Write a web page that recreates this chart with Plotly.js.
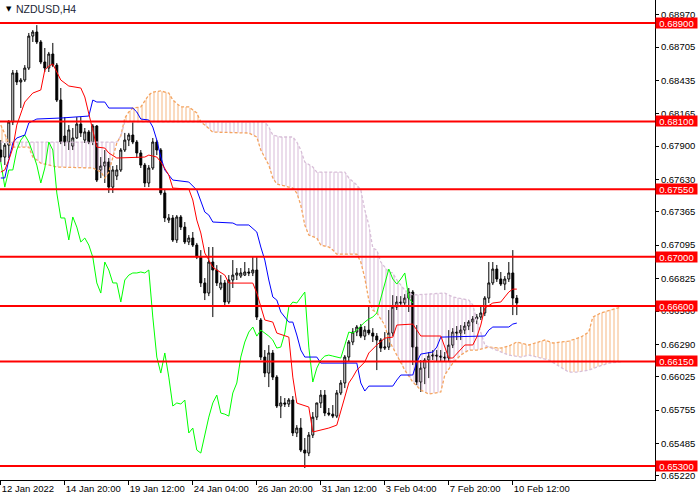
<!DOCTYPE html>
<html>
<head>
<meta charset="utf-8">
<script src="https://cdn.plot.ly/plotly-3.0.1.min.js"></script>
<style>
html, body { margin: 0; padding: 0; background: #fff; }
#chart { width: 700px; height: 500px; }
</style>
</head>
<body>
<div id="chart"></div>
<script>
// NZDUSD H4 candles, bar 0 = 12 Jan 2022 04:00
const open = [0.67868,0.67811,0.67908,0.68096,0.68494,0.68421,0.68437,0.68534,0.68794,0.68827,
  0.68746,0.68583,0.68534,0.68648,0.68558,0.68274,0.67982,0.67933,0.67900,0.67966,
  0.68079,0.67949,0.68015,0.67933,0.68063,0.67706,0.67738,0.67771,0.67567,0.67657,
  0.67706,0.67868,0.67949,0.67990,0.67933,0.67844,0.67746,0.67600,0.67722,0.67933,
  0.67868,0.67519,0.67299,0.67316,0.67137,0.67324,0.67242,0.67121,0.67153,0.67096,
  0.66998,0.66788,0.66706,0.66958,0.66893,0.66747,0.66788,0.66633,0.66812,0.66852,
  0.66844,0.66852,0.66877,0.66869,0.66893,0.66487,0.66186,0.66056,0.66219,0.66023,
  0.65788,0.65813,0.65804,0.65837,0.65569,0.65609,0.65430,0.65406,0.65552,0.65698,
  0.65813,0.65877,0.65731,0.65722,0.65706,0.65894,0.65975,0.66186,0.66308,0.66389,
  0.66430,0.66356,0.66405,0.66381,0.66356,0.66324,0.66259,0.66267,0.66381,0.66592,
  0.66633,0.66625,0.66665,0.66714,0.66267,0.65983,0.66096,0.66162,0.66194,0.66202,
  0.66194,0.66186,0.66178,0.66283,0.66389,0.66381,0.66405,0.66438,0.66471,0.66495,
  0.66511,0.66544,0.66665,0.66788,0.66901,0.66820,0.66779,0.66820,0.66869,0.66665];
const high = [0.67949,0.67925,0.68112,0.68518,0.68518,0.68453,0.68558,0.68819,0.68843,0.68883,
  0.68762,0.68697,0.68665,0.68738,0.68575,0.68372,0.68136,0.68071,0.68047,0.68136,
  0.68136,0.68047,0.68031,0.68079,0.68071,0.67811,0.67868,0.67803,0.67738,0.67746,
  0.67884,0.68007,0.68007,0.68096,0.67949,0.67868,0.67763,0.67746,0.67966,0.67949,
  0.67884,0.67543,0.67348,0.67340,0.67340,0.67340,0.67283,0.67177,0.67202,0.67113,
  0.67055,0.66828,0.67080,0.67080,0.66933,0.66852,0.66812,0.66852,0.66974,0.66909,
  0.66909,0.66958,0.66909,0.66998,0.66998,0.66503,0.66243,0.66283,0.66243,0.66039,
  0.65869,0.65853,0.65853,0.65869,0.65633,0.65690,0.65528,0.65577,0.65739,0.65813,
  0.65918,0.65918,0.65772,0.65796,0.65918,0.65999,0.66202,0.66324,0.66421,0.66446,
  0.66454,0.66438,0.66608,0.66421,0.66381,0.66340,0.66389,0.66568,0.66689,0.66681,
  0.66681,0.66697,0.66747,0.66730,0.66446,0.66162,0.66178,0.66227,0.66243,0.66243,
  0.66243,0.66227,0.66405,0.66421,0.66438,0.66446,0.66471,0.66487,0.66519,0.66535,
  0.66608,0.66681,0.66958,0.66958,0.66934,0.66877,0.66844,0.66958,0.67055,0.66690];
const low = [0.67771,0.67746,0.67803,0.68071,0.68396,0.68209,0.68421,0.68518,0.68746,0.68729,
  0.68566,0.68502,0.68502,0.68542,0.68258,0.67916,0.67900,0.67868,0.67868,0.67958,
  0.67974,0.67925,0.67916,0.67908,0.67608,0.67640,0.67600,0.67519,0.67519,0.67624,
  0.67690,0.67852,0.67900,0.67916,0.67803,0.67722,0.67567,0.67567,0.67706,0.67827,
  0.67502,0.67283,0.67275,0.67121,0.67113,0.67218,0.67104,0.67096,0.67080,0.66982,
  0.66755,0.66649,0.66681,0.66511,0.66763,0.66730,0.66608,0.66616,0.66747,0.66812,
  0.66828,0.66844,0.66844,0.66844,0.66487,0.66162,0.66023,0.65942,0.65999,0.65772,
  0.65690,0.65780,0.65780,0.65544,0.65536,0.65414,0.65284,0.65381,0.65528,0.65674,
  0.65772,0.65706,0.65706,0.65690,0.65690,0.65877,0.65934,0.66146,0.66283,0.66356,
  0.66340,0.66324,0.66364,0.66308,0.66080,0.66227,0.66243,0.66243,0.66356,0.66568,
  0.66600,0.66600,0.66552,0.66121,0.65958,0.65902,0.65966,0.66015,0.66162,0.66146,
  0.66146,0.66146,0.66146,0.66259,0.66324,0.66324,0.66372,0.66405,0.66389,0.66454,
  0.66487,0.66519,0.66625,0.66771,0.66796,0.66763,0.66730,0.66796,0.66527,0.66527];
const close = [0.67811,0.67908,0.68096,0.68494,0.68421,0.68437,0.68534,0.68794,0.68827,0.68746,
  0.68583,0.68534,0.68648,0.68558,0.68274,0.67933,0.67933,0.68031,0.67966,0.68079,
  0.68007,0.68015,0.67933,0.68063,0.67624,0.67738,0.67771,0.67567,0.67706,0.67706,
  0.67868,0.67949,0.67990,0.67933,0.67844,0.67746,0.67600,0.67722,0.67933,0.67868,
  0.67519,0.67316,0.67316,0.67137,0.67324,0.67242,0.67121,0.67153,0.67096,0.66998,
  0.66788,0.66706,0.66958,0.66893,0.66788,0.66788,0.66633,0.66812,0.66852,0.66869,
  0.66869,0.66877,0.66869,0.66893,0.66511,0.66186,0.66056,0.66219,0.66023,0.65788,
  0.65813,0.65804,0.65837,0.65569,0.65609,0.65430,0.65406,0.65552,0.65698,0.65813,
  0.65877,0.65731,0.65722,0.65706,0.65894,0.65975,0.66186,0.66308,0.66389,0.66430,
  0.66356,0.66405,0.66381,0.66356,0.66324,0.66259,0.66267,0.66381,0.66592,0.66633,
  0.66625,0.66665,0.66714,0.66267,0.65983,0.66096,0.66162,0.66194,0.66202,0.66194,
  0.66186,0.66178,0.66283,0.66389,0.66381,0.66405,0.66438,0.66471,0.66495,0.66511,
  0.66544,0.66665,0.66788,0.66901,0.66820,0.66779,0.66820,0.66869,0.66665,0.66625];

// Ichimoku lines, read at their corners (bar index, price)
const tenkanBars = [0,1,2,3,4,6,8,10,11,12,13,14,15,17,20,21,23,24,26,27,29,36,37,39,40,41,42,43,47,48,
  49,50,51,52,53,54,56,57,63,64,65,66,68,69,72,73,74,77,78,82,84,86,87,88,89,91,92,94,96,98,
  99,103,104,105,110,111,112,113,115,116,118,119,120,121,123,125,126,127,128,129];
const tenkan = [0.67689,0.67706,0.67787,0.67884,0.68071,0.68258,0.68331,0.68356,0.68518,0.68550,0.68567,0.68502,0.68437,0.68388,0.68372,0.68299,0.68031,0.67892,0.67884,0.67844,
  0.67803,0.67811,0.67827,0.67811,0.67771,0.67722,0.67665,0.67559,0.67551,0.67462,
  0.67299,0.67194,0.67031,0.66974,0.66917,0.66893,0.66852,0.66787,0.66787,0.66706,
  0.66592,0.66487,0.66470,0.66381,0.66348,0.66023,0.65812,0.65780,0.65577,0.65609,
  0.65633,0.65861,0.65975,0.66023,0.66080,0.66146,0.66219,0.66284,0.66340,0.66348,
  0.66446,0.66454,0.66405,0.66357,0.66357,0.66267,0.66178,0.66178,0.66243,0.66284,
  0.66284,0.66348,0.66446,0.66584,0.66625,0.66633,0.66674,0.66714,0.66738,0.66738];
const kijunBars = [0,1,2,3,4,6,7,8,9,15,22,23,24,26,27,33,34,35,37,38,39,40,41,43,47,49,50,51,52,53,
  58,59,62,64,65,66,67,68,69,70,72,73,74,75,76,79,80,89,90,91,92,98,99,100,103,104,105,108,109,110,
  121,122,123,127,128,129];
const kijun = [0.67641,0.67641,0.67787,0.67925,0.67966,0.67990,0.68088,0.68104,0.68120,0.68128,
  0.68144,0.68274,0.68258,0.68258,0.68209,0.68209,0.68177,0.68120,0.68112,0.68055,
  0.67949,0.67811,0.67706,0.67624,0.67608,0.67543,0.67446,0.67364,0.67340,0.67283,
  0.67275,0.67259,0.67259,0.67202,0.67080,0.66974,0.66812,0.66674,0.66649,0.66552,
  0.66470,0.66470,0.66365,0.66243,0.66186,0.66186,0.66137,0.66137,0.65975,0.65910,
  0.65950,0.65950,0.65999,0.66040,0.66040,0.66146,0.66210,0.66227,0.66267,0.66348,
  0.66357,0.66405,0.66430,0.66430,0.66454,0.66462];
const chikouShift = 26;

const spanABars = [0,1,2,3,7,8,10,14,23,25,26,27,28,29,30,31,32,33,35,37,38,40,42,43,45,47,49,50,51,53,
  62,64,65,67,68,69,71,73,74,75,76,77,79,80,82,83,84,89,90,91,92,93,94,96,97,99,101,103,105,107,
  110,111,113,115,117,119,122,125,127,129,132,136,138,142,145,147,148,150,153,155];
const spanA = [0.68071,0.67990,0.67925,0.67892,0.67892,0.67811,0.67762,0.67730,0.67722,0.67689,
  0.67641,0.67689,0.67803,0.67925,0.67982,0.68128,0.68177,0.68209,0.68218,0.68315,
  0.68339,0.68348,0.68331,0.68274,0.68218,0.68218,0.68169,0.68096,0.68071,0.68014,
  0.68006,0.67974,0.67868,0.67746,0.67641,0.67592,0.67576,0.67559,0.67519,0.67421,
  0.67259,0.67177,0.67153,0.67096,0.67080,0.67055,0.67022,0.67022,0.66958,0.66828,
  0.66649,0.66568,0.66544,0.66446,0.66324,0.66202,0.66080,0.65983,0.65918,0.65885,
  0.65902,0.66040,0.66137,0.66202,0.66243,0.66243,0.66267,0.66259,0.66275,0.66308,
  0.66284,0.66324,0.66300,0.66316,0.66348,0.66389,0.66511,0.66544,0.66576,0.66592];
const spanBBars = [0,1,2,3,29,30,31,50,66,67,68,70,73,74,75,76,78,79,86,87,89,90,91,92,93,94,95,96,97,98,
  99,101,103,111,113,117,118,119,120,121,122,125,127,130,132,137,140,142,144,147,149,152,155];
const spanB = [0.67933,0.67933,0.67925,0.67933,0.67933,0.67982,0.68096,0.68096,0.68096,0.68055,
  0.67990,0.67974,0.67974,0.67933,0.67868,0.67771,0.67730,0.67689,0.67689,0.67641,
  0.67584,0.67543,0.67381,0.67259,0.67072,0.67055,0.66958,0.66917,0.66877,0.66869,
  0.66812,0.66730,0.66690,0.66706,0.66674,0.66649,0.66609,0.66487,0.66381,0.66284,
  0.66267,0.66227,0.66202,0.66186,0.66202,0.66162,0.66105,0.66064,0.66064,0.66080,
  0.66105,0.66137,0.66146];
const cloudTwists = [0, 2, 30, 50, 122, 155];

const levels = [0.68900, 0.68100, 0.67550, 0.67000, 0.66600, 0.66150, 0.65300];
const priceTicks = [0.68970,0.68705,0.68435,0.68165,0.67900,0.67630,0.67365,0.67095,0.66825,0.66560,0.66290,0.66025,0.65755,0.65485,0.65220];
const timeTicks = [0, 16, 32, 48, 64, 80, 96, 112, 128];
const timeLabels = ['12 Jan 2022','14 Jan 20:00','19 Jan 12:00','24 Jan 04:00','26 Jan 20:00','31 Jan 12:00','3 Feb 04:00','7 Feb 20:00','10 Feb 12:00'];

const FONT = 'Liberation Sans, Arial, sans-serif';
const ORANGE = '#F4A460';
const THISTLE = '#D8BFD8';

function pick(xs, ys, s, e) {
  const x = [], y = [];
  xs.forEach((v, i) => { if (v >= s && v <= e) { x.push(v); y.push(ys[i]); } });
  return { x, y };
}
const avg = a => a.reduce((s, v) => s + v, 0) / a.length;

const traces = [];
// kumo hatch, one pair of traces per twist
for (let k = 0; k < cloudTwists.length - 1; k++) {
  const s = cloudTwists[k], e = cloudTwists[k + 1];
  const a = pick(spanABars, spanA, s, e);
  const b = pick(spanBBars, spanB, s, e);
  const col = avg(a.y) > avg(b.y) ? ORANGE : '#CDA8CD';
  traces.push({ x: b.x, y: b.y, type: 'scatter', mode: 'lines', line: { width: 0 }, hoverinfo: 'skip', showlegend: false });
  traces.push({ x: a.x, y: a.y, type: 'scatter', mode: 'lines', line: { width: 0 }, fill: 'tonexty',
    fillcolor: 'rgba(0,0,0,0)',
    fillpattern: { shape: '|', size: 4, solidity: 0.4, fgcolor: col, bgcolor: 'rgba(0,0,0,0)', fillmode: 'overlay' },
    hoverinfo: 'skip', showlegend: false });
}
traces.push({ x: spanABars, y: spanA, type: 'scatter', mode: 'lines', line: { color: ORANGE, width: 1.3, dash: '3px,2px' }, showlegend: false });
traces.push({ x: spanBBars, y: spanB, type: 'scatter', mode: 'lines', line: { color: THISTLE, width: 1.3, dash: '3px,2px' }, showlegend: false });

traces.push({
  type: 'candlestick',
  x: close.map((c, i) => i),
  open: open, high: high, low: low, close: close,
  increasing: { line: { color: '#000', width: 1 }, fillcolor: '#fff' },
  decreasing: { line: { color: '#000', width: 1 }, fillcolor: '#000' },
  whiskerwidth: 0,
  hoverinfo: 'skip', showlegend: false
});

const chikou = close.slice(chikouShift);
traces.push({ x: chikou.map((c, i) => i), y: chikou, type: 'scatter', mode: 'lines', line: { color: '#00FF00', width: 1 }, showlegend: false });
traces.push({ x: kijunBars, y: kijun, type: 'scatter', mode: 'lines', line: { color: '#0000FF', width: 1 }, showlegend: false });
traces.push({ x: tenkanBars, y: tenkan, type: 'scatter', mode: 'lines', line: { color: '#FF0000', width: 1 }, showlegend: false });

const shapes = levels.map(l => ({
  type: 'line', xref: 'paper', x0: 0, x1: 1, yref: 'y', y0: l, y1: l,
  line: { color: '#FF0000', width: 2 }, layer: 'above'
}));

const annotations = levels.map(l => ({
  xref: 'paper', x: 1, xanchor: 'left', yref: 'y', y: l, yanchor: 'middle',
  text: l.toFixed(5), showarrow: false, bgcolor: '#FF0000', borderpad: 0,
  width: 41, height: 10, align: 'center',
  font: { family: FONT, size: 9.5, color: '#fff' }
}));
annotations.push({ xref: 'paper', yref: 'paper', x: 0, y: 1, xanchor: 'left', yanchor: 'top', xshift: 4, yshift: -3,
  text: '▼', showarrow: false, font: { family: 'DejaVu Sans', size: 7, color: '#000' } });
annotations.push({ xref: 'paper', yref: 'paper', x: 0, y: 1, xanchor: 'left', yanchor: 'top', xshift: 14, yshift: -1,
  text: 'NZDUSD,H4', showarrow: false, font: { family: FONT, size: 10.5, color: '#1a2535' } });

const layout = {
  width: 700, height: 500,
  margin: { l: 0, r: 45, t: 0, b: 20, pad: 0 },
  paper_bgcolor: '#fff', plot_bgcolor: '#fff',
  showlegend: false,
  xaxis: {
    range: [-0.2, 163.55], showgrid: false, zeroline: false,
    showline: true, linecolor: '#000', linewidth: 1, mirror: false,
    ticks: 'outside', ticklen: 4, tickcolor: '#000',
    tickvals: timeTicks, ticktext: timeLabels,
    ticklabelposition: 'outside right',
    tickfont: { family: FONT, size: 9.5, color: '#000' },
    rangeslider: { visible: false }, fixedrange: true
  },
  yaxis: {
    side: 'right', range: [0.65187, 0.69087], showgrid: false, zeroline: false,
    showline: true, linecolor: '#000', linewidth: 1,
    ticks: 'outside', ticklen: 3, tickcolor: '#000',
    tickvals: priceTicks, tickformat: '.5f',
    tickfont: { family: FONT, size: 9.5, color: '#000' },
    fixedrange: true
  },
  shapes: shapes,
  annotations: annotations
};

Plotly.newPlot('chart', traces, layout, { staticPlot: true, displayModeBar: false });
</script>
</body>
</html>
